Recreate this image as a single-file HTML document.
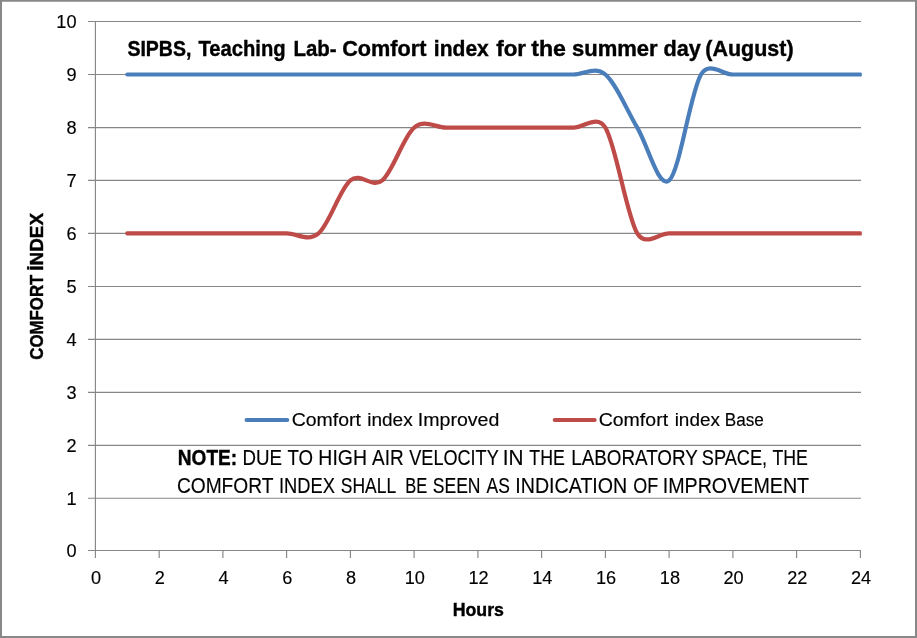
<!DOCTYPE html>
<html><head><meta charset="utf-8"><title>Comfort index chart</title>
<style>
html,body{margin:0;padding:0;background:#fff;}
body{width:917px;height:638px;overflow:hidden;}
svg{display:block;}
text{font-family:"Liberation Sans",sans-serif;fill:#000;stroke:#000;stroke-width:0.15px;}
.b{font-weight:bold;stroke-width:0.4px;}
</style></head><body>
<svg width="917" height="638" viewBox="0 0 917 638">
<rect x="0" y="0" width="917" height="638" fill="#fff"/>
<rect x="1" y="0.75" width="915" height="636.25" fill="none" stroke="#888888" stroke-width="2"/>

<g stroke="#868686" stroke-width="1.15" fill="none">
<line x1="88" y1="550.5" x2="861" y2="550.5"/>
<line x1="88" y1="498.2" x2="861" y2="498.2"/>
<line x1="88" y1="445.4" x2="861" y2="445.4"/>
<line x1="88" y1="392.3" x2="861" y2="392.3"/>
<line x1="88" y1="339.4" x2="861" y2="339.4"/>
<line x1="88" y1="286.5" x2="861" y2="286.5"/>
<line x1="88" y1="233.4" x2="861" y2="233.4"/>
<line x1="88" y1="180.4" x2="861" y2="180.4"/>
<line x1="88" y1="127.6" x2="861" y2="127.6"/>
<line x1="88" y1="74.5" x2="861" y2="74.5"/>
<line x1="88" y1="21.5" x2="861" y2="21.5"/>
<line x1="95.4" y1="21" x2="95.4" y2="551"/>
<line x1="95.4" y1="551" x2="95.4" y2="558"/>
<line x1="159.2" y1="551" x2="159.2" y2="558"/>
<line x1="222.9" y1="551" x2="222.9" y2="558"/>
<line x1="286.6" y1="551" x2="286.6" y2="558"/>
<line x1="350.4" y1="551" x2="350.4" y2="558"/>
<line x1="414.1" y1="551" x2="414.1" y2="558"/>
<line x1="477.9" y1="551" x2="477.9" y2="558"/>
<line x1="541.6" y1="551" x2="541.6" y2="558"/>
<line x1="605.4" y1="551" x2="605.4" y2="558"/>
<line x1="669.1" y1="551" x2="669.1" y2="558"/>
<line x1="732.9" y1="551" x2="732.9" y2="558"/>
<line x1="796.6" y1="551" x2="796.6" y2="558"/>
<line x1="860.4" y1="551" x2="860.4" y2="558"/>
</g>
<text x="66.4" y="556.9" font-size="18.0" textLength="10.1" lengthAdjust="spacingAndGlyphs">0</text>
<text x="66.4" y="504.6" font-size="18.0" textLength="10.1" lengthAdjust="spacingAndGlyphs">1</text>
<text x="66.4" y="451.8" font-size="18.0" textLength="10.1" lengthAdjust="spacingAndGlyphs">2</text>
<text x="66.4" y="398.7" font-size="18.0" textLength="10.1" lengthAdjust="spacingAndGlyphs">3</text>
<text x="66.4" y="345.8" font-size="18.0" textLength="10.1" lengthAdjust="spacingAndGlyphs">4</text>
<text x="66.4" y="292.9" font-size="18.0" textLength="10.1" lengthAdjust="spacingAndGlyphs">5</text>
<text x="66.4" y="239.8" font-size="18.0" textLength="10.1" lengthAdjust="spacingAndGlyphs">6</text>
<text x="66.4" y="186.8" font-size="18.0" textLength="10.1" lengthAdjust="spacingAndGlyphs">7</text>
<text x="66.4" y="134.0" font-size="18.0" textLength="10.1" lengthAdjust="spacingAndGlyphs">8</text>
<text x="66.4" y="80.9" font-size="18.0" textLength="10.1" lengthAdjust="spacingAndGlyphs">9</text>
<text x="56.3" y="27.9" font-size="18.0" textLength="20.2" lengthAdjust="spacingAndGlyphs">10</text>
<text x="91.1" y="583.9" font-size="18.0" textLength="10.1" lengthAdjust="spacingAndGlyphs">0</text>
<text x="154.8" y="583.9" font-size="18.0" textLength="10.1" lengthAdjust="spacingAndGlyphs">2</text>
<text x="218.5" y="583.9" font-size="18.0" textLength="10.1" lengthAdjust="spacingAndGlyphs">4</text>
<text x="282.3" y="583.9" font-size="18.0" textLength="10.1" lengthAdjust="spacingAndGlyphs">6</text>
<text x="346.0" y="583.9" font-size="18.0" textLength="10.1" lengthAdjust="spacingAndGlyphs">8</text>
<text x="404.7" y="583.9" font-size="18.0" textLength="20.2" lengthAdjust="spacingAndGlyphs">10</text>
<text x="468.5" y="583.9" font-size="18.0" textLength="20.2" lengthAdjust="spacingAndGlyphs">12</text>
<text x="532.2" y="583.9" font-size="18.0" textLength="20.2" lengthAdjust="spacingAndGlyphs">14</text>
<text x="596.0" y="583.9" font-size="18.0" textLength="20.2" lengthAdjust="spacingAndGlyphs">16</text>
<text x="659.8" y="583.9" font-size="18.0" textLength="20.2" lengthAdjust="spacingAndGlyphs">18</text>
<text x="723.5" y="583.9" font-size="18.0" textLength="20.2" lengthAdjust="spacingAndGlyphs">20</text>
<text x="787.2" y="583.9" font-size="18.0" textLength="20.2" lengthAdjust="spacingAndGlyphs">22</text>
<text x="851.0" y="583.9" font-size="18.0" textLength="20.2" lengthAdjust="spacingAndGlyphs">24</text>
<clipPath id="pc"><rect x="90" y="10" width="771.8" height="550"/></clipPath>
<path clip-path="url(#pc)" d="M127.28,74.50 C132.59,74.50 148.53,74.50 159.15,74.50 C169.78,74.50 180.40,74.50 191.03,74.50 C201.65,74.50 212.28,74.50 222.90,74.50 C233.53,74.50 244.15,74.50 254.78,74.50 C265.40,74.50 276.02,74.50 286.65,74.50 C297.27,74.50 307.90,74.50 318.52,74.50 C329.15,74.50 339.77,74.50 350.40,74.50 C361.02,74.50 371.65,74.50 382.27,74.50 C392.90,74.50 403.52,74.50 414.15,74.50 C424.77,74.50 435.40,74.50 446.02,74.50 C456.65,74.50 467.27,74.50 477.90,74.50 C488.52,74.50 499.15,74.50 509.77,74.50 C520.40,74.50 531.02,74.50 541.65,74.50 C552.27,74.50 562.90,74.50 573.52,74.50 C584.15,74.50 594.77,65.65 605.40,74.50 C616.02,83.35 626.65,109.95 637.27,127.60 C647.90,145.25 658.52,189.25 669.15,180.40 C679.77,171.55 690.40,92.15 701.02,74.50 C709.24,60.85 722.27,74.50 732.90,74.50 C743.52,74.50 754.15,74.50 764.77,74.50 C775.40,74.50 786.02,74.50 796.65,74.50 C807.27,74.50 817.90,74.50 828.52,74.50 C839.15,74.50 855.09,74.50 860.40,74.50" fill="none" stroke="#4A7EBB" stroke-width="4.2" stroke-linecap="round" stroke-linejoin="round"/>
<path clip-path="url(#pc)" d="M127.28,233.40 C132.59,233.40 148.53,233.40 159.15,233.40 C169.78,233.40 180.40,233.40 191.03,233.40 C201.65,233.40 212.28,233.40 222.90,233.40 C233.53,233.40 244.15,233.40 254.78,233.40 C265.40,233.40 276.02,233.40 286.65,233.40 C297.27,233.40 307.90,242.23 318.52,233.40 C329.15,224.57 339.77,189.23 350.40,180.40 C361.02,171.57 371.65,189.20 382.27,180.40 C392.90,171.60 403.52,136.40 414.15,127.60 C424.77,118.80 435.40,127.60 446.02,127.60 C456.65,127.60 467.27,127.60 477.90,127.60 C488.52,127.60 499.15,127.60 509.77,127.60 C520.40,127.60 531.02,127.60 541.65,127.60 C552.27,127.60 562.90,127.60 573.52,127.60 C584.15,127.60 597.17,113.95 605.40,127.60 C616.02,145.23 626.65,215.77 637.27,233.40 C645.50,247.05 658.52,233.40 669.15,233.40 C679.77,233.40 690.40,233.40 701.02,233.40 C711.65,233.40 722.27,233.40 732.90,233.40 C743.52,233.40 754.15,233.40 764.77,233.40 C775.40,233.40 786.02,233.40 796.65,233.40 C807.27,233.40 817.90,233.40 828.52,233.40 C839.15,233.40 855.09,233.40 860.40,233.40" fill="none" stroke="#BE4B48" stroke-width="4.2" stroke-linecap="round" stroke-linejoin="round"/>
<line x1="246.6" y1="420" x2="287.2" y2="420" stroke="#4A7EBB" stroke-width="4.2" stroke-linecap="round"/>
<line x1="554.8" y1="420" x2="594.6" y2="420" stroke="#BE4B48" stroke-width="4.2" stroke-linecap="round"/>
<text class="b" x="127.38" y="56.0" font-size="22.2" textLength="63.94" lengthAdjust="spacingAndGlyphs">SIPBS,</text>
<text class="b" x="198.38" y="56.0" font-size="22.2" textLength="87.20" lengthAdjust="spacingAndGlyphs">Teaching</text>
<text class="b" x="293.47" y="56.0" font-size="22.2" textLength="43.16" lengthAdjust="spacingAndGlyphs">Lab-</text>
<text class="b" x="342.14" y="56.0" font-size="22.2" textLength="84.24" lengthAdjust="spacingAndGlyphs">Comfort</text>
<text class="b" x="433.83" y="56.0" font-size="22.2" textLength="54.98" lengthAdjust="spacingAndGlyphs">index</text>
<text class="b" x="496.21" y="56.0" font-size="22.2" textLength="29.81" lengthAdjust="spacingAndGlyphs">for</text>
<text class="b" x="531.16" y="56.0" font-size="22.2" textLength="34.79" lengthAdjust="spacingAndGlyphs">the</text>
<text class="b" x="571.94" y="56.0" font-size="22.2" textLength="85.75" lengthAdjust="spacingAndGlyphs">summer</text>
<text class="b" x="663.52" y="56.0" font-size="22.2" textLength="37.33" lengthAdjust="spacingAndGlyphs">day</text>
<text class="b" x="705.32" y="56.0" font-size="22.2" textLength="88.25" lengthAdjust="spacingAndGlyphs">(August)</text>
<text x="291.68" y="425.6" font-size="18.0" textLength="69.22" lengthAdjust="spacingAndGlyphs">Comfort</text>
<text x="367.25" y="425.6" font-size="18.0" textLength="45.41" lengthAdjust="spacingAndGlyphs">index</text>
<text x="417.82" y="425.6" font-size="18.0" textLength="81.57" lengthAdjust="spacingAndGlyphs">Improved</text>
<text x="598.68" y="425.6" font-size="18.0" textLength="69.40" lengthAdjust="spacingAndGlyphs">Comfort</text>
<text x="674.66" y="425.6" font-size="18.0" textLength="45.21" lengthAdjust="spacingAndGlyphs">index</text>
<text x="724.82" y="425.6" font-size="18.0" textLength="39.08" lengthAdjust="spacingAndGlyphs">Base</text>
<text class="b" x="177.82" y="464.9" font-size="21.5" textLength="59.33" lengthAdjust="spacingAndGlyphs">NOTE:</text>
<text x="242.42" y="464.9" font-size="21.5" textLength="39.56" lengthAdjust="spacingAndGlyphs">DUE</text>
<text x="287.42" y="464.9" font-size="21.5" textLength="25.55" lengthAdjust="spacingAndGlyphs">TO</text>
<text x="318.37" y="464.9" font-size="21.5" textLength="48.54" lengthAdjust="spacingAndGlyphs">HIGH</text>
<text x="372.10" y="464.9" font-size="21.5" textLength="31.62" lengthAdjust="spacingAndGlyphs">AIR</text>
<text x="409.27" y="464.9" font-size="21.5" textLength="89.46" lengthAdjust="spacingAndGlyphs">VELOCITY</text>
<text x="502.86" y="464.9" font-size="21.5" textLength="20.75" lengthAdjust="spacingAndGlyphs">IN</text>
<text x="529.34" y="464.9" font-size="21.5" textLength="35.47" lengthAdjust="spacingAndGlyphs">THE</text>
<text x="571.22" y="464.9" font-size="21.5" textLength="126.60" lengthAdjust="spacingAndGlyphs">LABORATORY</text>
<text x="701.81" y="464.9" font-size="21.5" textLength="65.37" lengthAdjust="spacingAndGlyphs">SPACE,</text>
<text x="772.44" y="464.9" font-size="21.5" textLength="35.43" lengthAdjust="spacingAndGlyphs">THE</text>
<text x="176.88" y="492.6" font-size="21.5" textLength="96.59" lengthAdjust="spacingAndGlyphs">COMFORT</text>
<text x="278.99" y="492.6" font-size="21.5" textLength="55.97" lengthAdjust="spacingAndGlyphs">INDEX</text>
<text x="340.76" y="492.6" font-size="21.5" textLength="55.37" lengthAdjust="spacingAndGlyphs">SHALL</text>
<text x="405.15" y="492.6" font-size="21.5" textLength="21.98" lengthAdjust="spacingAndGlyphs">BE</text>
<text x="432.75" y="492.6" font-size="21.5" textLength="47.79" lengthAdjust="spacingAndGlyphs">SEEN</text>
<text x="486.62" y="492.6" font-size="21.5" textLength="23.27" lengthAdjust="spacingAndGlyphs">AS</text>
<text x="515.29" y="492.6" font-size="21.5" textLength="112.01" lengthAdjust="spacingAndGlyphs">INDICATION</text>
<text x="633.22" y="492.6" font-size="21.5" textLength="24.91" lengthAdjust="spacingAndGlyphs">OF</text>
<text x="662.69" y="492.6" font-size="21.5" textLength="146.44" lengthAdjust="spacingAndGlyphs">IMPROVEMENT</text>
<text class="b" x="452.67" y="615.7" font-size="18.4" textLength="51.32" lengthAdjust="spacingAndGlyphs">Hours</text>
<g transform="translate(43.1,358.9) rotate(-90)"><text class="b" x="-0.8" y="0" font-size="18.3" textLength="85" lengthAdjust="spacingAndGlyphs">COMFORT</text><text class="b" x="88.2" y="0" font-size="18.3" textLength="57.7" lengthAdjust="spacingAndGlyphs">İNDEX</text></g>
</svg></body></html>
